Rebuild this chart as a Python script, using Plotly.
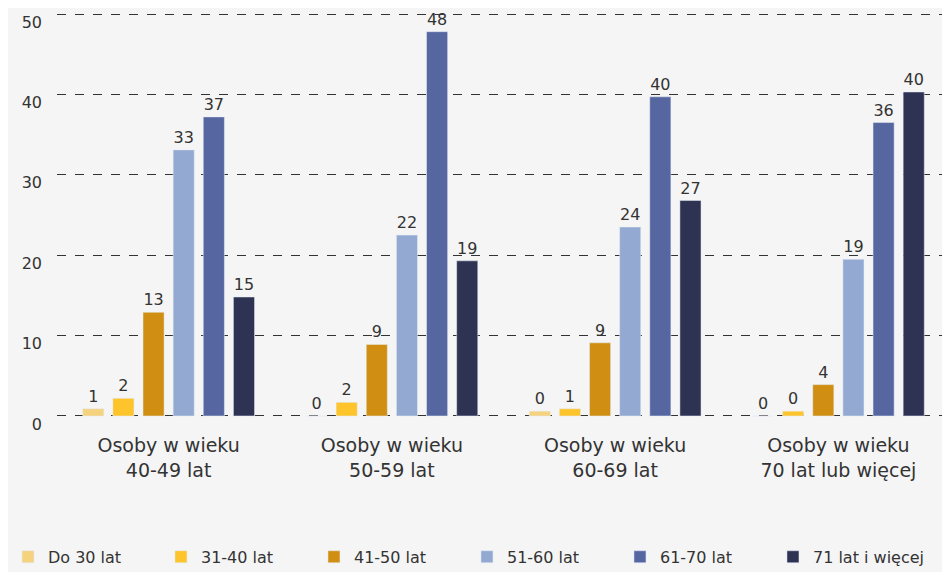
import plotly.graph_objects as go

categories = ['Osoby w wieku<br>40-49 lat', 'Osoby w wieku<br>50-59 lat',
              'Osoby w wieku<br>60-69 lat', 'Osoby w wieku<br>70 lat lub więcej']

series_names = ['Do 30 lat', '31-40 lat', '41-50 lat', '51-60 lat', '61-70 lat', '71 lat i więcej']

do_30 = [0.9, 0.0, 0.6, 0.0]
s_31_40 = [2.2, 1.7, 0.9, 0.6]
s_41_50 = [12.9, 8.9, 9.1, 3.9]
s_51_60 = [33.1, 22.5, 23.5, 19.5]
s_61_70 = [37.2, 47.8, 39.7, 36.5]
s_71_plus = [14.8, 19.3, 26.8, 40.3]

labels_do_30 = ['1', '0', '0', '0']
labels_31_40 = ['2', '2', '1', '0']
labels_41_50 = ['13', '9', '9', '4']
labels_51_60 = ['33', '22', '24', '19']
labels_61_70 = ['37', '48', '40', '36']
labels_71_plus = ['15', '19', '27', '40']

colors = ['#f5d27e', '#fdc42c', '#d08f12', '#94a9d1', '#5666a0', '#2e3354']

values = [do_30, s_31_40, s_41_50, s_51_60, s_61_70, s_71_plus]
labels = [labels_do_30, labels_31_40, labels_41_50, labels_51_60, labels_61_70, labels_71_plus]

fig = go.Figure()
for name, vals, txt, col in zip(series_names, values, labels, colors):
    fig.add_trace(go.Bar(
        x=categories, y=vals, name=name, text=txt,
        textposition='outside', cliponaxis=False,
        textfont=dict(size=16, color='#333333'),
        marker_color=col,
    ))

# page body adds an 8px offset, so the figure is 8px smaller each way
fig.update_layout(
    width=942, height=564,
    margin=dict(l=49, r=0, t=4, b=154, autoexpand=False),
    paper_bgcolor='#f5f5f5', plot_bgcolor='#f5f5f5',
    font=dict(family='DejaVu Sans, Verdana, sans-serif', size=16, color='#333333'),
    barmode='group', bargap=0.19, bargroupgap=0.3,
    uniformtext=dict(minsize=8, mode='show'),
    legend=dict(orientation='h', x=-0.0549, xanchor='left', y=-0.342, yanchor='middle',
                entrywidth=108, entrywidthmode='pixels', font=dict(size=16),
                bgcolor='rgba(0,0,0,0)'),
)
fig.update_yaxes(range=[-0.25, 50.25], dtick=10, showgrid=True, gridcolor='#333333', gridwidth=1,
                 griddash='dash', zeroline=False, ticks='', ticklabelstandoff=14,
                 ticklabelshift=8, ticklabeloverflow='allow',
                 tickfont=dict(size=16), automargin=False)
fig.update_xaxes(showgrid=False, showline=False, ticks='', ticklabelstandoff=14,
                 tickfont=dict(size=19), automargin=False)

fig.write_html("out.html")
